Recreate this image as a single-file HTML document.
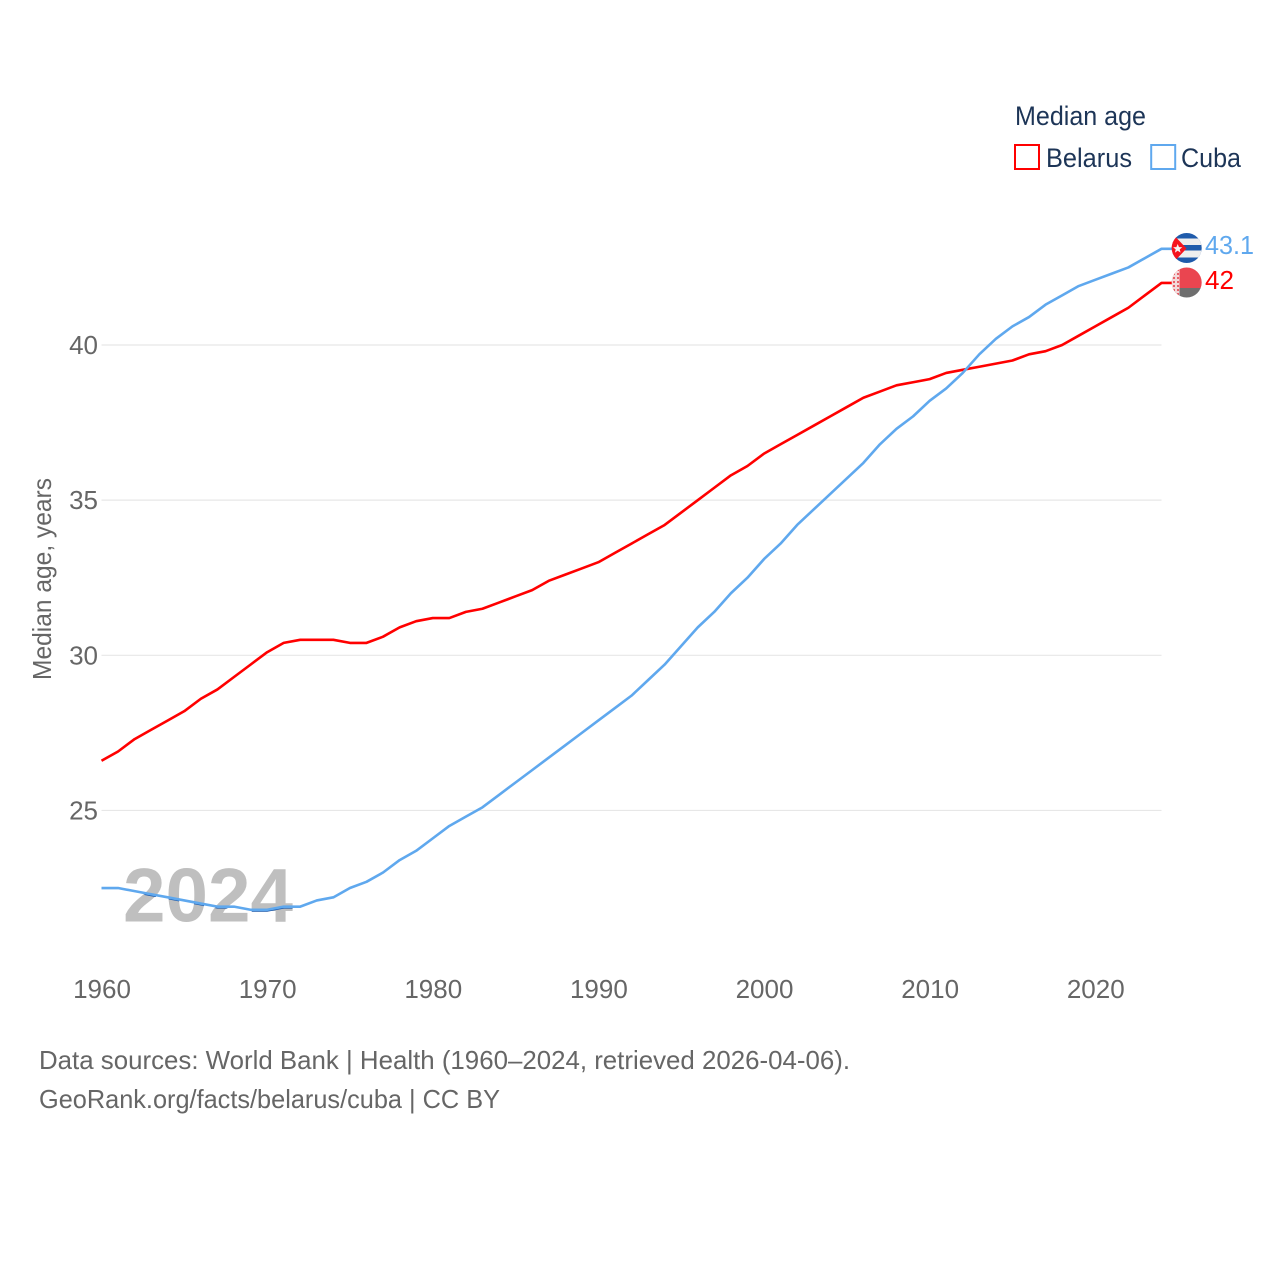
<!DOCTYPE html>
<html lang="en">
<head>
<meta charset="utf-8">
<title>Median age: Belarus and Cuba</title>
<style>
html,body{margin:0;padding:0;background:#fff;width:1280px;height:1280px;overflow:hidden}
svg{display:block}
text{font-family:"Liberation Sans",sans-serif}
</style>
</head>
<body>
<svg id="chart" xmlns="http://www.w3.org/2000/svg" width="1280" height="1280" viewBox="0 0 1280 1280">
  <defs>
    <clipPath id="year-clip"><text x="123" y="921.5" font-size="76" font-weight="700" textLength="170" lengthAdjust="spacingAndGlyphs" style="font-family:'Liberation Sans',sans-serif">2024</text></clipPath>
    <clipPath id="cuba-clip"><circle cx="1186.7" cy="248" r="15"/></clipPath>
    <clipPath id="belarus-clip"><circle cx="1186.7" cy="282.5" r="15"/></clipPath>
    <pattern id="belarus-hoist" width="4" height="4" patternUnits="userSpaceOnUse">
      <rect width="4" height="4" fill="#f3d9da"/>
      <rect x="1" y="1" width="2" height="2" fill="#e7626a"/>
    </pattern>
  </defs>
  <g id="grid"></g>
  <g id="y-ticks"></g>
  <g id="x-ticks"></g>
  <text transform="translate(51,680) rotate(-90)" font-size="26" fill="#666" textLength="202" lengthAdjust="spacingAndGlyphs">Median age, years</text>
  <text x="123" y="921.5" font-size="76" font-weight="700" fill="#bfbfbf" textLength="170" lengthAdjust="spacingAndGlyphs">2024</text>
  <g id="series"></g>

  <g>
    <text x="1015" y="125" font-size="27" fill="#1d3557" textLength="131" lengthAdjust="spacingAndGlyphs">Median age</text>
    <rect x="1015" y="145" width="24" height="24" fill="none" stroke="#ff0000" stroke-width="2"/>
    <text x="1046" y="167" font-size="27" fill="#1d3557" textLength="86" lengthAdjust="spacingAndGlyphs">Belarus</text>
    <rect x="1151.2" y="145" width="24" height="24" fill="none" stroke="#5fa8ee" stroke-width="2"/>
    <text x="1181" y="167" font-size="27" fill="#1d3557" textLength="60" lengthAdjust="spacingAndGlyphs">Cuba</text>
  </g>

  <g clip-path="url(#cuba-clip)">
    <rect x="1171" y="232" width="32" height="32" fill="#1f5bab"/>
    <rect x="1171" y="238.5" width="32" height="6.5" fill="#eeeeee"/>
    <rect x="1171" y="250.5" width="32" height="7" fill="#eeeeee"/>
    <polygon points="1171,232 1186.5,248.5 1171,265" fill="#f5141e"/>
    <polygon points="1177.7,244 1179,247.1 1182.3,247.3 1179.7,249.4 1180.6,252.6 1177.7,250.8 1174.9,252.6 1175.7,249.4 1173.1,247.3 1176.4,247.1" fill="#f4f4f4"/>
  </g>
  <g clip-path="url(#belarus-clip)">
    <rect x="1171" y="267" width="32" height="21" fill="#ea4550"/>
    <rect x="1171" y="288" width="32" height="11" fill="#6e6e6e"/>
    <rect x="1171" y="267" width="8.5" height="32" fill="url(#belarus-hoist)"/>
  </g>
  <text x="1205" y="254" font-size="26" fill="#5fa8ee" textLength="49" lengthAdjust="spacingAndGlyphs">43.1</text>
  <text x="1205" y="289" font-size="26" fill="#ff0000" textLength="29" lengthAdjust="spacingAndGlyphs">42</text>

  <text x="39" y="1069" font-size="26" fill="#666" textLength="811" lengthAdjust="spacingAndGlyphs">Data sources: World Bank | Health (1960–2024, retrieved 2026-04-06).</text>
  <text x="39" y="1108" font-size="26" fill="#666" textLength="461" lengthAdjust="spacingAndGlyphs">GeoRank.org/facts/belarus/cuba | CC BY</text>
</svg>
<script>
const startYear = 1960;
const belarusValues = [26.6,26.9,27.3,27.6,27.9,28.2,28.6,28.9,29.3,29.7,30.1,30.4,30.5,30.5,30.5,30.4,30.4,30.6,30.9,31.1,31.2,31.2,31.4,31.5,31.7,31.9,32.1,32.4,32.6,32.8,33.0,33.3,33.6,33.9,34.2,34.6,35.0,35.4,35.8,36.1,36.5,36.8,37.1,37.4,37.7,38.0,38.3,38.5,38.7,38.8,38.9,39.1,39.2,39.3,39.4,39.5,39.7,39.8,40.0,40.3,40.6,40.9,41.2,41.6,42.0];
const cubaValues = [22.5,22.5,22.4,22.3,22.2,22.1,22.0,21.9,21.9,21.8,21.8,21.9,21.9,22.1,22.2,22.5,22.7,23.0,23.4,23.7,24.1,24.5,24.8,25.1,25.5,25.9,26.3,26.7,27.1,27.5,27.9,28.3,28.7,29.2,29.7,30.3,30.9,31.4,32.0,32.5,33.1,33.6,34.2,34.7,35.2,35.7,36.2,36.8,37.3,37.7,38.2,38.6,39.1,39.7,40.2,40.6,40.9,41.3,41.6,41.9,42.1,42.3,42.5,42.8,43.1];
const xTickYears = [1960,1970,1980,1990,2000,2010,2020];
const yTickValues = [25,30,35,40];

const NS = 'http://www.w3.org/2000/svg';
const xScale = function (year) { return 101.5 + (year - 1960) * (1060 / 64); };
const yScale = function (v) { return 345 + (40 - v) * 31.03; };
const flagEdgeX = 1172;

function linePoints(values) {
  const pts = values.map(function (v, i) {
    return xScale(startYear + i).toFixed(2) + ',' + yScale(v).toFixed(2);
  });
  const last = values[values.length - 1];
  pts.push(flagEdgeX + ',' + yScale(last).toFixed(2));
  return pts.join(' ');
}

const gridGroup = document.getElementById('grid');
const yGroup = document.getElementById('y-ticks');
yTickValues.forEach(function (v) {
  const gl = document.createElementNS(NS, 'line');
  
  
  gl.setAttribute('x1', xScale(1960));
  gl.setAttribute('x2', xScale(2024));
  gl.setAttribute('y1', yScale(v));
  gl.setAttribute('y2', yScale(v));
  gl.setAttribute('stroke', '#e7e7e7');
  gl.setAttribute('stroke-width', '1.2');
  gridGroup.appendChild(gl);

  const t = document.createElementNS(NS, 'text');
  
  
  t.setAttribute('x', 98);
  t.setAttribute('y', yScale(v) + 9);
  t.setAttribute('text-anchor', 'end');
  t.setAttribute('font-size', '26');
  t.setAttribute('fill', '#666');
  t.textContent = String(v);
  yGroup.appendChild(t);
});

const xGroup = document.getElementById('x-ticks');
xTickYears.forEach(function (year) {
  const t = document.createElementNS(NS, 'text');
  
  
  t.setAttribute('x', xScale(year) + 0.5);
  t.setAttribute('y', 998);
  t.setAttribute('text-anchor', 'middle');
  t.setAttribute('font-size', '26');
  t.setAttribute('fill', '#666');
  t.textContent = String(year);
  xGroup.appendChild(t);
});

const seriesGroup = document.getElementById('series');

const shadow = document.createElementNS(NS, 'polyline');


shadow.setAttribute('points', linePoints(cubaValues));
shadow.setAttribute('fill', 'none');
shadow.setAttribute('stroke', '#1f5bab');
shadow.setAttribute('stroke-width', '2.4');
shadow.setAttribute('transform', 'translate(0,0.8)');
shadow.setAttribute('clip-path', 'url(#year-clip)');
seriesGroup.appendChild(shadow);

const belarusLine = document.createElementNS(NS, 'polyline');


belarusLine.setAttribute('points', linePoints(belarusValues));
belarusLine.setAttribute('fill', 'none');
belarusLine.setAttribute('stroke', '#ff0000');
belarusLine.setAttribute('stroke-width', '2.6');
belarusLine.setAttribute('stroke-linejoin', 'round');
seriesGroup.appendChild(belarusLine);

const cubaLine = document.createElementNS(NS, 'polyline');


cubaLine.setAttribute('points', linePoints(cubaValues));
cubaLine.setAttribute('fill', 'none');
cubaLine.setAttribute('stroke', '#5fa8ee');
cubaLine.setAttribute('stroke-width', '2.6');
cubaLine.setAttribute('stroke-linejoin', 'round');
seriesGroup.appendChild(cubaLine);
</script>
</body>
</html>
